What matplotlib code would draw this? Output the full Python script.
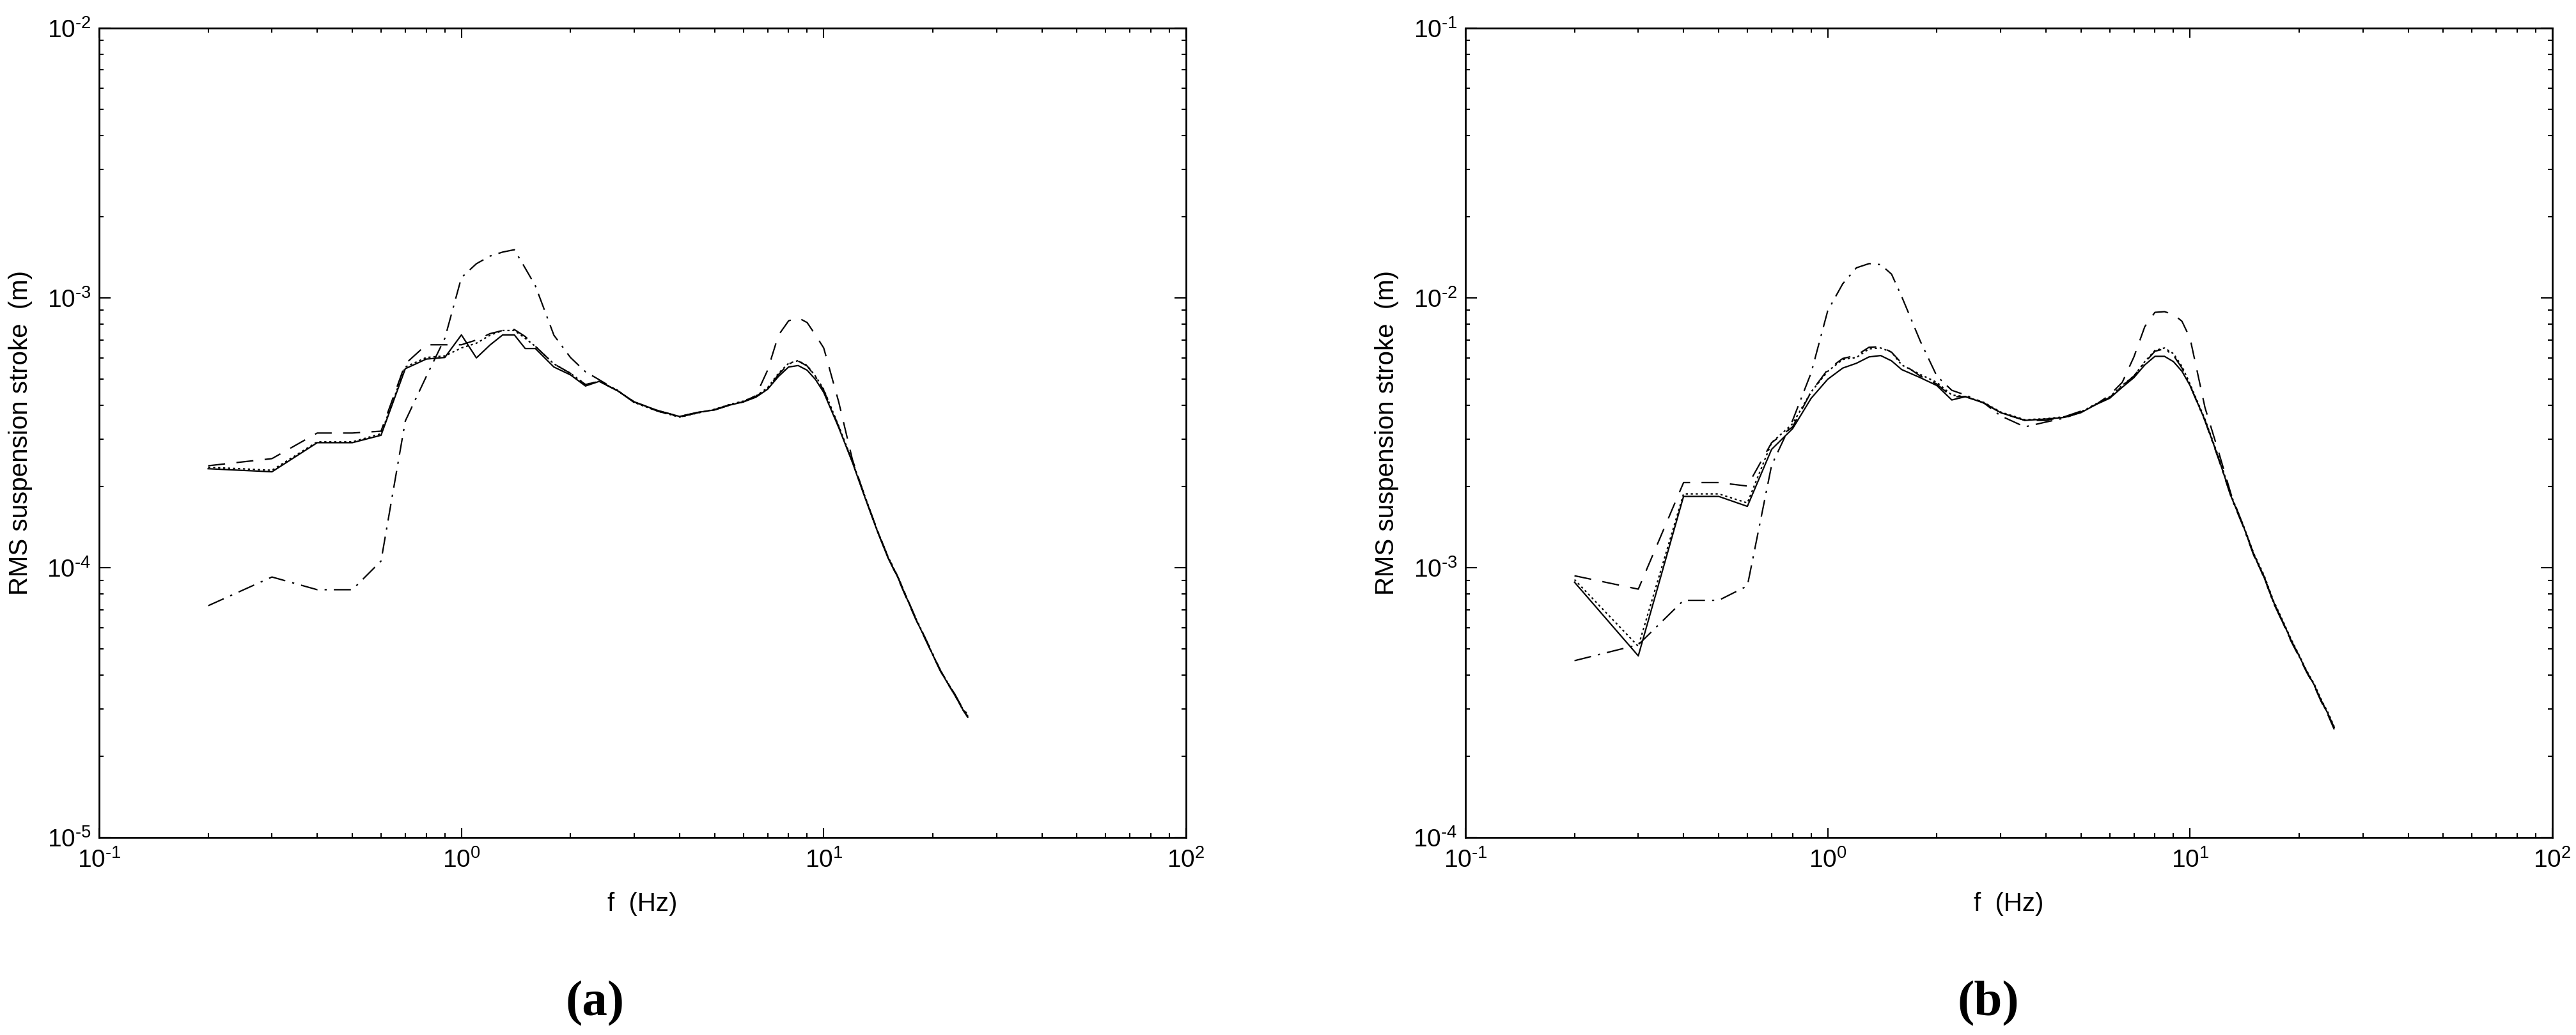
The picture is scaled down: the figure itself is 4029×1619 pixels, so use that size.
import matplotlib
matplotlib.use("Agg")
import numpy as np
import matplotlib.pyplot as plt
from matplotlib.ticker import FuncFormatter

plt.rcParams['font.family'] = ['Liberation Sans', 'DejaVu Sans']
plt.rcParams['mathtext.fontset'] = 'custom'
plt.rcParams['mathtext.rm'] = 'Liberation Sans'

# frequency grid (Hz), shared by every curve
freq = [0.2, 0.3, 0.4, 0.5, 0.6, 0.7, 0.8, 0.9, 1.0, 1.1, 1.2, 1.3, 1.4, 1.5, 1.6,
        1.8, 2.0, 2.2, 2.4, 2.7, 3.0, 3.5, 4.0, 4.5, 5.0, 5.5, 6.0, 6.5, 7.0, 7.5,
        8.0, 8.5, 9.0, 9.5, 10, 11, 12, 13, 14, 15, 16, 17, 18, 19, 20, 21, 22, 23,
        24, 25]

# --- panel (a): RMS suspension stroke (m) ---
solid_a = [2.33e-4, 2.27e-4, 2.91e-4, 2.91e-4, 3.10e-4, 5.47e-4, 5.94e-4, 6.02e-4,
           7.30e-4, 6.00e-4, 6.70e-4, 7.30e-4, 7.30e-4, 6.50e-4, 6.50e-4, 5.55e-4,
           5.19e-4, 4.72e-4, 4.91e-4, 4.53e-4, 4.12e-4, 3.82e-4, 3.64e-4, 3.77e-4,
           3.85e-4, 4.01e-4, 4.12e-4, 4.29e-4, 4.59e-4, 5.12e-4, 5.55e-4, 5.62e-4,
           5.40e-4, 4.98e-4, 4.47e-4, 3.31e-4, 2.46e-4, 1.82e-4, 1.39e-4, 1.10e-4,
           9.25e-5, 7.65e-5, 6.41e-5, 5.52e-5, 4.76e-5, 4.15e-5, 3.73e-5, 3.39e-5,
           3.04e-5, 2.80e-5]
dashed_a = [2.39e-4, 2.54e-4, 3.16e-4, 3.16e-4, 3.21e-4, 5.70e-4, 6.71e-4, 6.71e-4,
            6.71e-4, 6.99e-4, 7.38e-4, 7.58e-4, 7.64e-4, 7.20e-4, 6.62e-4, 5.70e-4,
            5.26e-4, 4.78e-4, 4.91e-4, 4.53e-4, 4.12e-4, 3.82e-4, 3.64e-4, 3.77e-4,
            3.85e-4, 4.01e-4, 4.12e-4, 4.35e-4, 5.40e-4, 7.28e-4, 8.23e-4, 8.45e-4,
            8.11e-4, 7.28e-4, 6.53e-4, 4.12e-4, 2.52e-4, 1.83e-4, 1.39e-4, 1.10e-4,
            9.20e-5, 7.60e-5, 6.40e-5, 5.50e-5, 4.75e-5, 4.14e-5, 3.72e-5, 3.38e-5,
            3.03e-5, 2.79e-5]
dashdot_a = [7.24e-5, 9.25e-5, 8.30e-5, 8.30e-5, 1.06e-4, 3.50e-4, 5.12e-4, 7.09e-4,
             1.19e-3, 1.34e-3, 1.43e-3, 1.48e-3, 1.51e-3, 1.29e-3, 1.11e-3, 7.28e-4,
             6.02e-4, 5.33e-4, 4.98e-4, 4.53e-4, 4.10e-4, 3.80e-4, 3.62e-4, 3.76e-4,
             3.86e-4, 4.02e-4, 4.14e-4, 4.32e-4, 4.62e-4, 5.20e-4, 5.70e-4, 5.84e-4,
             5.60e-4, 5.10e-4, 4.55e-4, 3.34e-4, 2.47e-4, 1.83e-4, 1.40e-4, 1.11e-4,
             9.30e-5, 7.70e-5, 6.45e-5, 5.55e-5, 4.80e-5, 4.17e-5, 3.75e-5, 3.41e-5,
             3.07e-5, 2.85e-5]
dotted_a = [2.36e-4, 2.30e-4, 2.93e-4, 2.93e-4, 3.14e-4, 5.55e-4, 6.02e-4, 6.10e-4,
            6.53e-4, 6.80e-4, 7.28e-4, 7.58e-4, 7.58e-4, 7.09e-4, 6.62e-4, 5.70e-4,
            5.26e-4, 4.78e-4, 4.91e-4, 4.55e-4, 4.10e-4, 3.80e-4, 3.62e-4, 3.75e-4,
            3.87e-4, 4.03e-4, 4.15e-4, 4.33e-4, 4.65e-4, 5.26e-4, 5.73e-4, 5.86e-4,
            5.62e-4, 5.12e-4, 4.59e-4, 3.35e-4, 2.48e-4, 1.84e-4, 1.40e-4, 1.11e-4,
            9.30e-5, 7.70e-5, 6.45e-5, 5.55e-5, 4.78e-5, 4.17e-5, 3.75e-5, 3.40e-5,
            3.06e-5, 2.82e-5]

# --- panel (b) ---
solid_b = [8.85e-4, 4.72e-4, 1.84e-3, 1.84e-3, 1.69e-3, 2.75e-3, 3.28e-3, 4.25e-3,
           5.00e-3, 5.50e-3, 5.73e-3, 6.05e-3, 6.12e-3, 5.85e-3, 5.43e-3, 5.07e-3,
           4.74e-3, 4.19e-3, 4.31e-3, 4.08e-3, 3.76e-3, 3.52e-3, 3.56e-3, 3.61e-3,
           3.76e-3, 4.03e-3, 4.25e-3, 4.67e-3, 5.07e-3, 5.65e-3, 6.08e-3, 6.08e-3,
           5.81e-3, 5.35e-3, 4.74e-3, 3.52e-3, 2.54e-3, 1.83e-3, 1.44e-3, 1.12e-3,
           9.30e-4, 7.48e-4, 6.35e-4, 5.40e-4, 4.72e-4, 4.12e-4, 3.69e-4, 3.23e-4,
           2.89e-4, 2.56e-4]
dashed_b = [9.35e-4, 8.34e-4, 2.07e-3, 2.07e-3, 2.01e-3, 2.91e-3, 3.33e-3, 4.49e-3,
            5.43e-3, 5.97e-3, 6.13e-3, 6.57e-3, 6.60e-3, 6.30e-3, 5.73e-3, 5.14e-3,
            4.80e-3, 4.31e-3, 4.31e-3, 4.08e-3, 3.76e-3, 3.52e-3, 3.52e-3, 3.63e-3,
            3.81e-3, 4.03e-3, 4.37e-3, 4.87e-3, 6.05e-3, 7.83e-3, 8.85e-3, 8.90e-3,
            8.70e-3, 8.20e-3, 7.10e-3, 3.92e-3, 2.68e-3, 1.86e-3, 1.44e-3, 1.12e-3,
            9.20e-4, 7.45e-4, 6.30e-4, 5.35e-4, 4.68e-4, 4.10e-4, 3.66e-4, 3.20e-4,
            2.86e-4, 2.52e-4]
dashdot_b = [4.53e-4, 5.19e-4, 7.58e-4, 7.58e-4, 8.57e-4, 2.40e-3, 3.52e-3, 5.28e-3,
             8.97e-3, 1.129e-2, 1.294e-2, 1.341e-2, 1.330e-2, 1.226e-2, 1.013e-2, 6.93e-3,
             5.14e-3, 4.55e-3, 4.37e-3, 4.08e-3, 3.66e-3, 3.33e-3, 3.47e-3, 3.59e-3,
             3.78e-3, 4.04e-3, 4.28e-3, 4.72e-3, 5.14e-3, 5.76e-3, 6.35e-3, 6.48e-3,
             6.13e-3, 5.50e-3, 4.74e-3, 3.50e-3, 2.52e-3, 1.82e-3, 1.43e-3, 1.11e-3,
             9.25e-4, 7.40e-4, 6.30e-4, 5.38e-4, 4.70e-4, 4.11e-4, 3.68e-4, 3.22e-4,
             2.88e-4, 2.55e-4]
dotted_b = [9.05e-4, 5.12e-4, 1.88e-3, 1.88e-3, 1.74e-3, 2.91e-3, 3.42e-3, 4.49e-3,
            5.35e-3, 5.92e-3, 6.02e-3, 6.48e-3, 6.53e-3, 6.30e-3, 5.65e-3, 5.21e-3,
            4.87e-3, 4.37e-3, 4.31e-3, 4.10e-3, 3.78e-3, 3.54e-3, 3.57e-3, 3.63e-3,
            3.78e-3, 4.05e-3, 4.30e-3, 4.75e-3, 5.14e-3, 5.81e-3, 6.39e-3, 6.53e-3,
            6.22e-3, 5.58e-3, 4.80e-3, 3.55e-3, 2.57e-3, 1.85e-3, 1.45e-3, 1.13e-3,
            9.40e-4, 7.55e-4, 6.40e-4, 5.45e-4, 4.75e-4, 4.15e-4, 3.72e-4, 3.26e-4,
            2.92e-4, 2.58e-4]

panels = [
    ('(a)', (1e-5, 1e-2), [solid_a, dashed_a, dashdot_a, dotted_a]),
    ('(b)', (1e-4, 1e-1), [solid_b, dashed_b, dashdot_b, dotted_b]),
]
styles = ['-', (0, (12, 8)), (0, (12, 5, 1.5, 5)), (0, (1.5, 2))]


def decade_label(v, pos):
    # MATLAB style: 10 with a hyphen exponent
    e = int(round(np.log10(v)))
    sign = r'\text{-}' if e < 0 else ''
    return r'$\mathdefault{10^{%s%d}}$' % (sign, abs(e))


fig = plt.figure(figsize=(40.3, 16.19), dpi=100)
lefts = [155 / 4030, 2292 / 4030]
tag_x = [931 / 4030, 3110 / 4030]

for i, (tag, ylim, series) in enumerate(panels):
    ax = fig.add_axes([lefts[i], 0.1906, 1700 / 4030, 0.7822])
    for vals, ls in zip(series, styles):
        ax.plot(freq, vals, color='black', linewidth=1.6, linestyle=ls)
    ax.set_xscale('log')
    ax.set_yscale('log')
    ax.set_xlim(0.1, 100)
    ax.set_ylim(*ylim)
    ax.xaxis.set_major_formatter(FuncFormatter(decade_label))
    ax.yaxis.set_major_formatter(FuncFormatter(decade_label))
    for sp in ax.spines.values():
        sp.set_linewidth(2.0)
    ax.tick_params(which='both', direction='in', top=True, right=True,
                   width=1.5, labelsize=28)
    ax.tick_params(axis='x', which='major', length=11, pad=12)
    ax.tick_params(axis='y', which='major', length=13, pad=9)
    ax.tick_params(which='minor', length=5)
    ax.set_xlabel('f  (Hz)', fontsize=29)
    ax.set_ylabel('RMS suspension stroke  (m)', fontsize=29)
    ax.xaxis.set_label_coords(0.5, -0.067)
    ax.xaxis.label.set_va('top')
    ax.yaxis.set_label_coords(-0.061, 0.5)
    fig.text(tag_x[i], 1 - 1570 / 1619, tag, ha='center', va='center',
             fontsize=57, fontweight='bold', family='Liberation Serif')

fig.savefig('out.png', dpi=100, facecolor='white')
